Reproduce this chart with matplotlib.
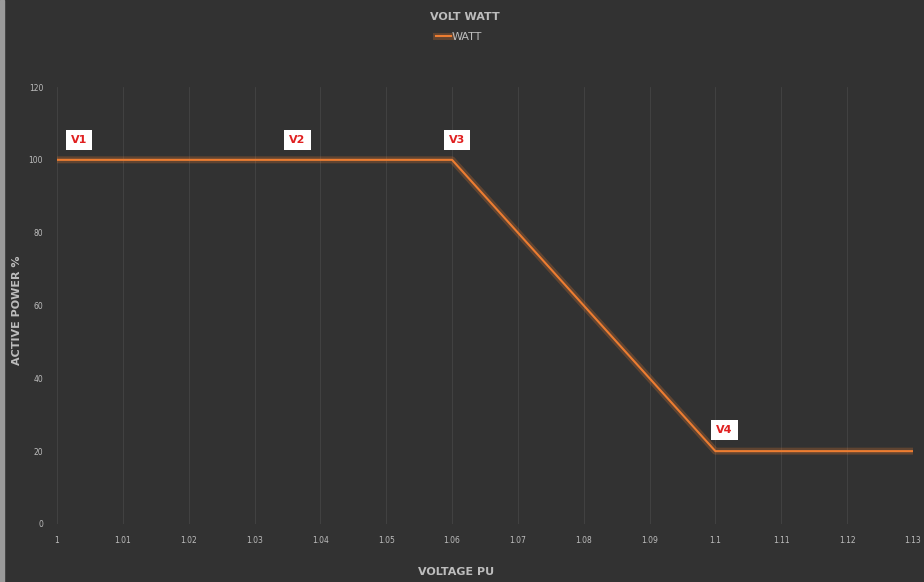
import matplotlib.pyplot as plt
import matplotlib.patheffects as pe

# data
voltage_pu = [1.0, 1.06, 1.1, 1.13]
watt_pct = [100, 100, 20, 20]
point_names = ['V1', 'V2', 'V3', 'V4']
name_x = [1.0033, 1.0365, 1.0607, 1.1014]
name_y = [105.4, 105.4, 105.4, 25.8]
xticks = [1.0, 1.01, 1.02, 1.03, 1.04, 1.05, 1.06, 1.07, 1.08, 1.09, 1.1, 1.11, 1.12, 1.13]
xtick_labels = ['1', '1.01', '1.02', '1.03', '1.04', '1.05', '1.06', '1.07', '1.08', '1.09', '1.1', '1.11', '1.12', '1.13']
yticks = [0, 20, 40, 60, 80, 100, 120]

bg = '#323232'
txt = '#bdbdbd'
fig = plt.figure(figsize=(9.24, 5.82), dpi=100, facecolor=bg)
ax = fig.add_axes([0.0617, 0.0997, 0.9263, 0.7508], facecolor=bg)

ax.plot(voltage_pu, watt_pct, color='#ED7D31', lw=1.5, label='WATT',
        path_effects=[pe.Stroke(linewidth=5, foreground='#ED7D31', alpha=0.25), pe.Normal()])

for n, x, y in zip(point_names, name_x, name_y):
    ax.text(x, y, n, color='#e02020', fontsize=8, fontweight='bold', ha='center', va='center',
            bbox=dict(boxstyle='square,pad=0.45', fc='white', ec='none'))

ax.set_xlim(1.0, 1.13)
ax.set_ylim(0, 120)
ax.set_xticks(xticks)
ax.set_xticklabels(xtick_labels)
ax.set_yticks(yticks)
ax.tick_params(colors=txt, labelsize=5.5, length=0)
ax.tick_params(axis='x', pad=9)
ax.tick_params(axis='y', pad=10)
ax.grid(axis='x', color='#444444', lw=0.6)
for s in ax.spines.values():
    s.set_visible(False)

ax.set_xlabel('VOLTAGE PU', color=txt, fontsize=8, fontweight='bold')
ax.xaxis.set_label_coords(0.466, -0.098)
ax.set_ylabel('ACTIVE POWER %', color=txt, fontsize=8, fontweight='bold')
ax.yaxis.set_label_coords(-0.041, 0.49)
fig.text(0.503, 0.971, 'VOLT WATT', color=txt, fontsize=8, fontweight='bold', ha='center', va='center')
leg = ax.legend(loc='center', bbox_to_anchor=(0.47, 1.115), frameon=False, fontsize=8,
                handlelength=1.3, handletextpad=0.1, labelcolor=txt)

# light border on the left edge
fig.patches.append(plt.Rectangle((0, 0), 0.004, 1, transform=fig.transFigure, color='#9a9a9a'))

fig.savefig('out.png', dpi=100, facecolor=bg)
